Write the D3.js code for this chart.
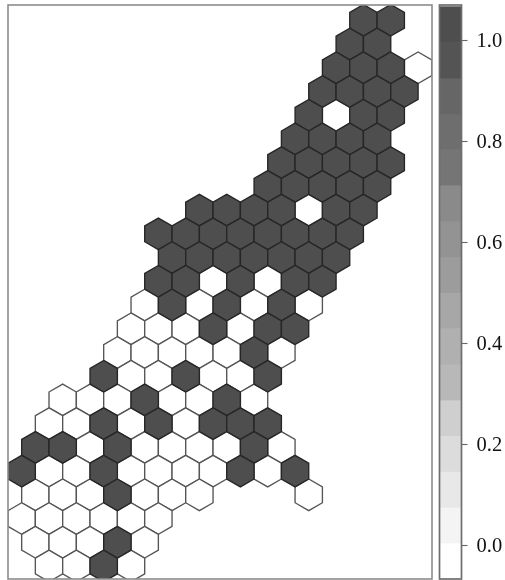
<!DOCTYPE html>
<html><head><meta charset="utf-8">
<script src="https://cdn.jsdelivr.net/npm/d3@7"></script>
<style>html,body{margin:0;padding:0;background:#fff}svg{display:block;filter:blur(0.45px)}</style>
</head><body><div id="c"></div>
<script>
// First half-column index of each hexagon row, and each row's cell values (null = empty cell)
const rowStart = [26,25,24,23,22,21,20,19,14,11,12,11,10,9,8,7,4,3,2,1,2,1,2,3];
const rowValues = [
 [1,1],
 [1,1],
 [1,1,1,0],
 [1,1,1,1],
 [1,0,1,1],
 [1,1,1,1],
 [1,1,1,1,1],
 [1,1,1,1,1],
 [1,1,1,1,0,1,1],
 [1,1,1,1,1,1,1,1],
 [1,1,1,1,1,1,1],
 [1,1,0,1,0,1,1],
 [0,1,0,1,0,1,0],
 [0,0,0,1,0,1,1],
 [0,0,0,0,0,1,0],
 [1,0,0,1,0,0,1],
 [0,0,0,1,0,0,1,0],
 [0,0,1,0,1,0,1,1,1],
 [1,1,0,1,0,0,0,0,1,0],
 [1,0,0,1,0,0,0,0,1,0,1],
 [0,0,0,1,0,0,0,null,null,null,0],
 [0,0,0,0,0,0],
 [0,0,0,1,0],
 [0,0,1,0]
];
const colorbarTicks = [0,0.2,0.4,0.6,0.8,1.0];
const colorDomain = [-0.0667,1.0667];
const greyLevels = ["#ffffff","#f4f4f4","#e8e8e8","#dcdcdc","#cfcfcf","#b8b8b8","#b0b0b0","#a7a7a7",
 "#9c9c9c","#939393","#8a8a8a","#757575","#6e6e6e","#666666","#545454","#4e4e4e"];

const W=505,H=580;
const frame={l:8,t:5,r:432,b:579};
const bar={l:439.5,r:461.5};
const x=d3.scaleLinear().domain([0,30]).range([8,418.1]);
const y=d3.scaleLinear().domain([0,23]).range([20.3,566]);
const R=(x(2)-x(0))/Math.sqrt(3);
const fill=d3.scaleQuantize().domain(colorDomain).range(greyLevels);

const cells=rowValues.flatMap((vals,r)=>vals.map((v,i)=>({r,q:rowStart[r]+2*i,v}))).filter(d=>d.v!==null);
const hexPts=d3.range(6).map(i=>{const a=Math.PI/3*i+Math.PI/6;return [R*Math.cos(a),R*Math.sin(a)];});

const svg=d3.select("#c").append("svg").attr("width",W).attr("height",H);
svg.append("clipPath").attr("id","pc").append("rect")
  .attr("x",frame.l).attr("y",frame.t).attr("width",frame.r-frame.l).attr("height",frame.b-frame.t);
const g=svg.append("g").attr("clip-path","url(#pc)");
g.selectAll("path").data(cells.slice().sort((a,b)=>a.v-b.v)).join("path")
  .attr("d","M"+hexPts.map(p=>p.join(",")).join("L")+"Z")
  .attr("transform",d=>`translate(${x(d.q)},${y(d.r)})`)
  .attr("fill",d=>fill(d.v))
  .attr("stroke",d=>d.v?"#262626":"#555")
  .attr("stroke-width",1.35);
svg.append("rect").attr("x",frame.l).attr("y",frame.t).attr("width",frame.r-frame.l).attr("height",frame.b-frame.t)
  .attr("fill","none").attr("stroke","#8c8c8c").attr("stroke-width",1.6);

// colorbar
const cy=d3.scaleLinear().domain([0,1]).range([545,40]);
const step=(colorDomain[1]-colorDomain[0])/greyLevels.length;
svg.selectAll("rect.band").data(greyLevels).join("rect").attr("class","band")
  .attr("x",bar.l).attr("width",bar.r-bar.l)
  .attr("y",(d,i)=>cy(colorDomain[0]+step*(i+1)))
  .attr("height",(d,i)=>cy(colorDomain[0]+step*i)-cy(colorDomain[0]+step*(i+1))+0.5)
  .attr("fill",d=>d);
svg.append("rect").attr("x",bar.l).attr("y",frame.t).attr("width",bar.r-bar.l).attr("height",frame.b-frame.t)
  .attr("fill","none").attr("stroke","#6e6e6e").attr("stroke-width",1.7);
const ax=svg.append("g").attr("transform",`translate(${bar.r},0)`)
  .call(d3.axisRight(cy).tickValues(colorbarTicks).tickFormat(d3.format(".1f")).tickSize(6).tickPadding(9));
ax.select(".domain").remove();
ax.selectAll("line").attr("stroke","#666").attr("stroke-width",1.1);
ax.selectAll("text").attr("font-family","'Liberation Serif',serif").attr("font-size",20.5).attr("fill","#111");
</script></body></html>
